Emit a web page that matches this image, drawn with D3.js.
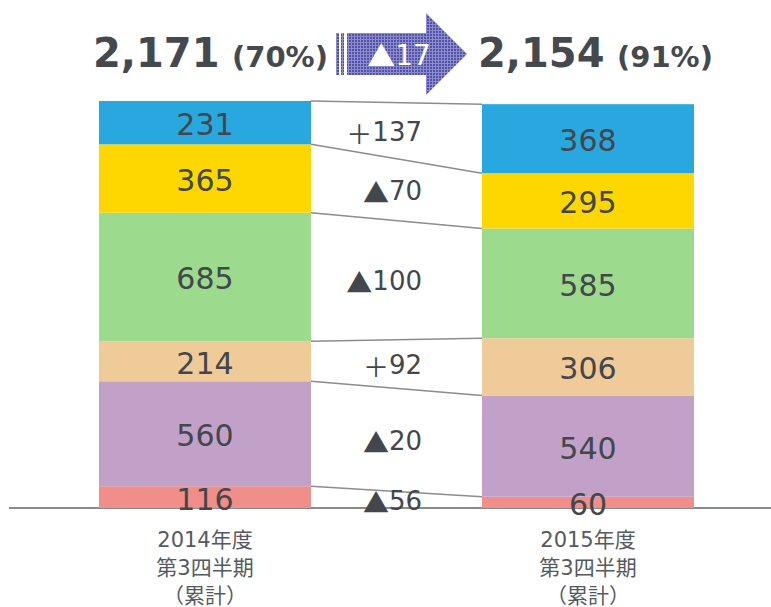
<!DOCTYPE html>
<html>
<head>
<meta charset="utf-8">
<script src="https://cdn.jsdelivr.net/npm/d3@7"></script>
<style>
  html, body { margin: 0; padding: 0; background: #fff; }
  svg { display: block; }
</style>
</head>
<body>
<div id="chart"></div>
<script>
// ---- data ----
const years = ["2014", "2015"];
const categoryLines = [
  ["2014年度", "第3四半期", "（累計）"],
  ["2015年度", "第3四半期", "（累計）"]
];
// segments, bottom to top
const values2014 = [116, 560, 214, 685, 365, 231];
const values2015 = [60, 540, 306, 585, 295, 368];
const segmentColors = ["#F08E8A", "#C1A1C8", "#EECB98", "#9CDA8D", "#FFD700", "#29A8E0"];
const totals = [2171, 2154];
const shareLabels = ["(70%)", "(91%)"];

// ---- layout ----
const W = 771, H = 607;
const baseY = 508;
const textColor = "#43474b";
const fontNum = "'DejaVu Sans', Verdana, 'Noto Sans CJK JP', sans-serif";
const fontSym = "'Noto Sans CJK JP', 'DejaVu Sans', sans-serif";

const svg = d3.select("#chart").append("svg")
  .attr("width", W).attr("height", H);

const defs = svg.append("defs");
const pat = defs.append("pattern")
  .attr("id", "arrowPat").attr("patternUnits", "userSpaceOnUse")
  .attr("width", 3).attr("height", 3);
pat.append("rect").attr("width", 3).attr("height", 3).attr("fill", "#5252AA");
pat.append("rect").attr("x", 0).attr("y", 0).attr("width", 3).attr("height", 1).attr("fill", "#8C8CCB");
pat.append("rect").attr("x", 0).attr("y", 0).attr("width", 1).attr("height", 3).attr("fill", "#8C8CCB");

const x = d3.scaleBand().domain(years).range([99, 694]).paddingInner(171 / 383).paddingOuter(0);
const y = d3.scaleLinear().domain([0, d3.max(totals)]).range([baseY, 101]);

const series = [values2014, values2015];
const stacks = series.map(vals => {
  let acc = 0;
  return vals.map((v, i) => { const s = { y0: acc, y1: acc + v, v, i }; acc += v; return s; });
});

// axis baseline
svg.append("line")
  .attr("x1", 9).attr("x2", W).attr("y1", baseY).attr("y2", baseY)
  .attr("stroke", "#8a8a8a").attr("stroke-width", 2);

// bars
years.forEach((yr, k) => {
  svg.append("g").selectAll("rect").data(stacks[k]).join("rect")
    .attr("x", x(yr)).attr("width", x.bandwidth())
    .attr("y", d => y(d.y1)).attr("height", d => y(d.y0) - y(d.y1))
    .attr("fill", d => segmentColors[d.i]);
});

// connector lines (top of each segment)
const xL = x(years[0]) + x.bandwidth();
const xR = x(years[1]);
svg.append("g").selectAll("line").data(d3.range(values2014.length)).join("line")
  .attr("x1", xL).attr("x2", xR)
  .attr("y1", i => y(stacks[0][i].y1)).attr("y2", i => y(stacks[1][i].y1))
  .attr("stroke", "#8c8c8c").attr("stroke-width", 1.5);

// delta label writer: symbol in CJK font, number in DejaVu
function writeDelta(sel, d) {
  sel.append("tspan").attr("font-family", fontSym).text(d >= 0 ? "＋" : "▲");
  sel.append("tspan").attr("font-family", fontNum).text(Math.abs(d));
}

// delta labels
svg.append("g").selectAll("text").data(d3.range(values2014.length)).join("text")
  .attr("x", 422)
  .attr("y", i => {
    const a = stacks[0][i], b = stacks[1][i];
    return (y(a.y0) + y(a.y1) + y(b.y0) + y(b.y1)) / 4 + 1;
  })
  .attr("text-anchor", "end").attr("dominant-baseline", "central")
  .attr("font-size", 26).attr("fill", textColor)
  .each(function (i) { writeDelta(d3.select(this), values2015[i] - values2014[i]); });

// segment value labels
years.forEach((yr, k) => {
  svg.append("g").selectAll("text").data(stacks[k]).join("text")
    .attr("x", x(yr) + x.bandwidth() / 2)
    .attr("y", d => (y(d.y0) + y(d.y1)) / 2 + 2)
    .attr("text-anchor", "middle").attr("dominant-baseline", "central")
    .attr("font-family", fontNum).attr("font-size", 30).attr("fill", textColor)
    .text(d => d.v);
});

// category labels
years.forEach((yr, k) => {
  const t = svg.append("text")
    .attr("x", x(yr) + x.bandwidth() / 2).attr("y", 547)
    .attr("text-anchor", "middle")
    .attr("font-family", fontNum).attr("font-size", 21).attr("fill", "#555a5e");
  categoryLines[k].forEach((ln, j) => {
    t.append("tspan").attr("x", x(yr) + x.bandwidth() / 2).attr("dy", j === 0 ? 0 : 28).text(ln);
  });
});

// header totals
const fmt = d3.format(",");
const headerX = [93, 478];
const shareX = [232, 617];
totals.forEach((tv, k) => {
  svg.append("text").attr("x", headerX[k]).attr("y", 67)
    .attr("font-family", fontNum).attr("font-size", 40).attr("font-weight", "bold")
    .attr("fill", "#45494d").text(fmt(tv));
  svg.append("text").attr("x", shareX[k]).attr("y", 67)
    .attr("font-family", fontNum).attr("font-size", 29).attr("font-weight", "bold")
    .attr("fill", "#45494d").text(shareLabels[k]);
});

// arrow
const ag = svg.append("g");
ag.append("rect").attr("x", 336).attr("y", 33).attr("width", 3).attr("height", 42).attr("fill", "url(#arrowPat)");
ag.append("rect").attr("x", 341).attr("y", 33).attr("width", 3).attr("height", 42).attr("fill", "url(#arrowPat)");
ag.append("path")
  .attr("d", "M347,33 L426,33 L426,13 L467,54 L426,95 L426,75 L347,75 Z")
  .attr("fill", "url(#arrowPat)");
const at = ag.append("text").attr("x", 399).attr("y", 55)
  .attr("text-anchor", "middle").attr("dominant-baseline", "central")
  .attr("font-size", 28).attr("fill", "#fff");
writeDelta(at, totals[1] - totals[0]);
</script>
</body>
</html>
